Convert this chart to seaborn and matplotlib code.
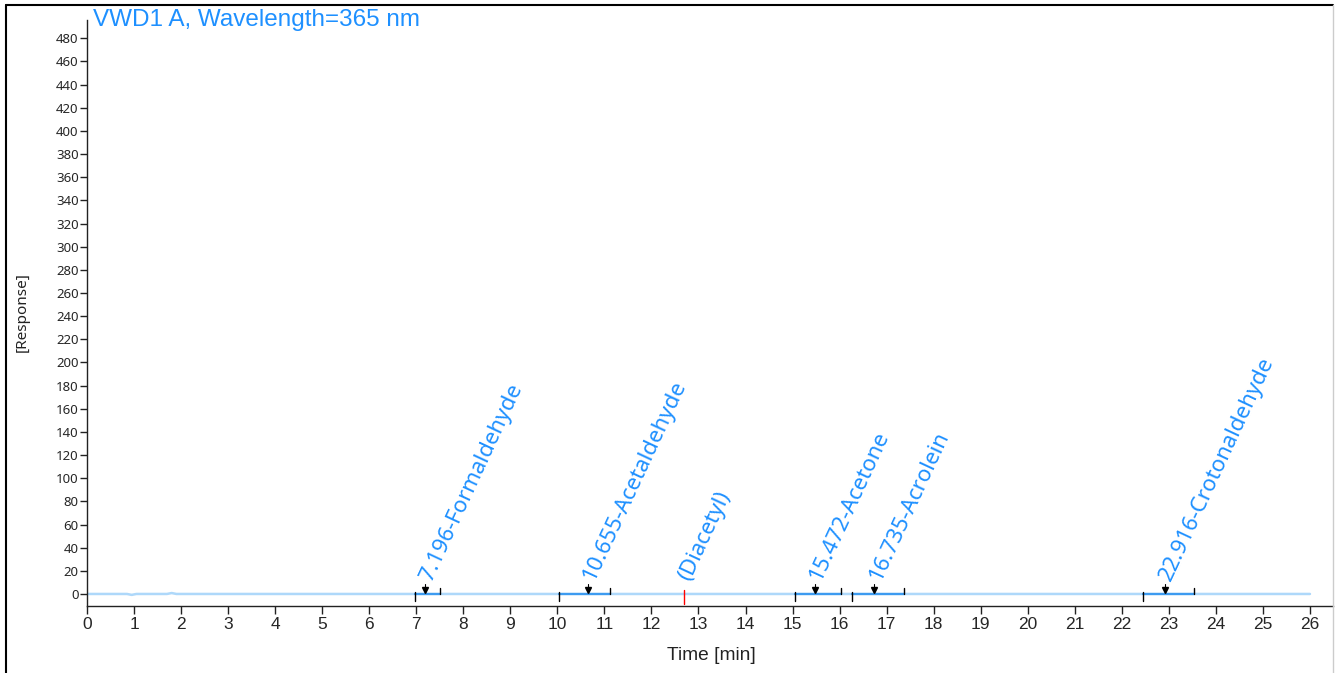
import numpy as np
import pandas as pd
import matplotlib
matplotlib.use("Agg")
from matplotlib import pyplot as plt
from matplotlib.lines import Line2D
import seaborn as sns

sns.set_style("white")
plt.rcParams["font.family"] = ["Liberation Sans", "DejaVu Sans"]

# detector trace (flat baseline with two tiny blips near injection)
trace_time = [0.0, 0.85, 0.95, 1.05, 1.7, 1.8, 1.9, 26.0]
trace_resp = [0.0, 0.0, -0.8, 0.0, 0.0, 0.8, 0.0, 0.0]

# integrated peaks
peak_names = ["Formaldehyde", "Acetaldehyde", "Acetone", "Acrolein", "Crotonaldehyde"]
peak_rt = [7.196, 10.655, 15.472, 16.735, 22.916]
peak_start = [6.97, 10.03, 15.05, 16.26, 22.46]
peak_end = [7.50, 11.12, 16.04, 17.37, 23.54]

# expected but not found
missing_name = "(Diacetyl)"
missing_rt = 12.69

x_ticks = list(range(0, 27))
y_ticks = list(range(0, 481, 20))

trace_col = "#aed8fa"
label_col = "#1e90ff"
base_col = "#3d9bf0"
seg_font = ["Noto Sans", "DejaVu Sans"]

fig = plt.figure(figsize=(13.35, 6.73), dpi=100)
ax = fig.add_axes([87 / 1335, 67 / 673, 1246 / 1335, 586 / 673])

df = pd.DataFrame({"time": trace_time, "resp": trace_resp})
sns.lineplot(data=df, x="time", y="resp", ax=ax, color=trace_col, lw=1.8, zorder=2)

for rt, s, e, name in zip(peak_rt, peak_start, peak_end, peak_names):
    ax.plot([s, e], [0, 0], color=base_col, lw=1.6, zorder=3)
    ax.plot([s, s], [1.5, -6], color="black", lw=1, zorder=4)
    ax.plot([e, e], [0, 5.5], color="black", lw=1, zorder=4)
    ax.plot([rt, rt], [3, 9], color="black", lw=0.8, zorder=4)
    ax.plot(rt, 3.2, marker="v", color="black", ms=4.5, zorder=4)
    ax.text(rt + 0.12, 10, f"{rt:.3f}-{name}", rotation=65, rotation_mode="anchor",
            ha="left", va="baseline", color=label_col, fontsize=16, family=seg_font)

ax.plot([missing_rt, missing_rt], [3, -9], color="red", lw=1, zorder=4)
ax.text(missing_rt + 0.12, 10, missing_name, rotation=65, rotation_mode="anchor",
        ha="left", va="baseline", color=label_col, fontsize=16, family=seg_font)

ax.set_xlim(0, 26.49)
ax.set_ylim(-10.4, 495.8)
ax.set_xticks(x_ticks)
ax.set_yticks(y_ticks)
ax.tick_params(axis="x", direction="out", length=6, width=1, labelsize=12.5, pad=2,
               bottom=True, color="#222222")
ax.tick_params(axis="y", direction="out", length=5, width=1, labelsize=9.5, pad=1,
               left=True, color="#222222")
for lab in ax.get_yticklabels():
    lab.set_family(seg_font)
ax.set_xlabel("")
ax.set_ylabel("")
sns.despine(ax=ax, top=True, right=True)
ax.spines["left"].set_color("#222222")
ax.spines["bottom"].set_color("#222222")
ax.spines["left"].set_linewidth(1)
ax.spines["bottom"].set_linewidth(1)

fig.text(93 / 1335, 1 - 9 / 673, "VWD1 A, Wavelength=365 nm", color=label_col,
         fontsize=17.5, ha="left", va="top")
fig.text(711 / 1335, 1 - 655 / 673, "Time [min]", fontsize=13.8, ha="center", va="center",
         color="#222222")
fig.text(22 / 1335, 1 - 312 / 673, "[Response]", fontsize=11, rotation=90,
         ha="center", va="center", color="#222222", family=seg_font)

# outer frame of the report panel
fig.add_artist(Line2D([6 / 1335, 6 / 1335], [0, 1 - 5 / 673], color="black", lw=1.5))
fig.add_artist(Line2D([6 / 1335, 1333 / 1335], [1 - 5 / 673, 1 - 5 / 673], color="black", lw=1.5))
fig.add_artist(Line2D([1333 / 1335, 1333 / 1335], [0, 1 - 5 / 673], color="#cccccc", lw=1))

fig.savefig("out.png", dpi=100)
